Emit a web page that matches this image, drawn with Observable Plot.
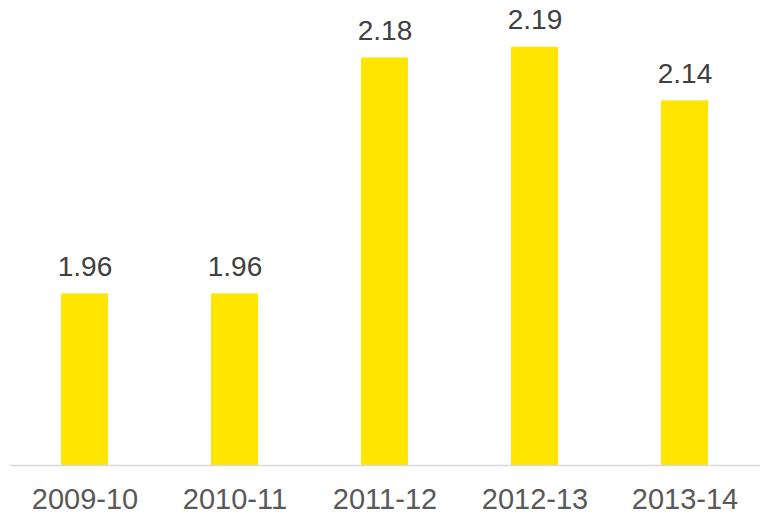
<!DOCTYPE html>
<html>
<head>
<meta charset="utf-8">
<script src="https://cdn.jsdelivr.net/npm/d3@7"></script>
<script src="https://cdn.jsdelivr.net/npm/@observablehq/plot@0.6"></script>
<style>
  html, body { margin: 0; padding: 0; background: #fff; }
</style>
</head>
<body>
<div id="chart"></div>
<script>
const years = ["2009-10", "2010-11", "2011-12", "2012-13", "2013-14"];
const values = [1.96, 1.96, 2.18, 2.19, 2.14];
const labels = ["1.96", "1.96", "2.18", "2.19", "2.14"];

const data = years.map((year, i) => ({year, value: values[i], label: labels[i]}));

const chart = Plot.plot({
  width: 761,
  height: 514,
  marginLeft: 10,
  marginRight: 1,
  marginTop: 36,
  marginBottom: 49,
  style: {fontFamily: "'Liberation Sans', Arial, sans-serif", background: "#fff"},
  x: {domain: years, paddingInner: 0.686, paddingOuter: 0.343, label: null},
  y: {domain: [1.8, 2.2], axis: null},
  marks: [
    Plot.barY(data, {x: "year", y1: 1.8, y2: "value", fill: "#FFE500"}),
    Plot.ruleY([1.8], {stroke: "#d9d9d9", strokeWidth: 1.5}),
    Plot.text(data, {x: "year", y: "value", text: "label", dy: -18, lineAnchor: "bottom", fontSize: 28, fill: "#404040"}),
    Plot.axisX({tickSize: 0, tickPadding: 23, fontSize: 29, color: "#595959", label: null})
  ]
});
document.getElementById("chart").appendChild(chart);
</script>
</body>
</html>
